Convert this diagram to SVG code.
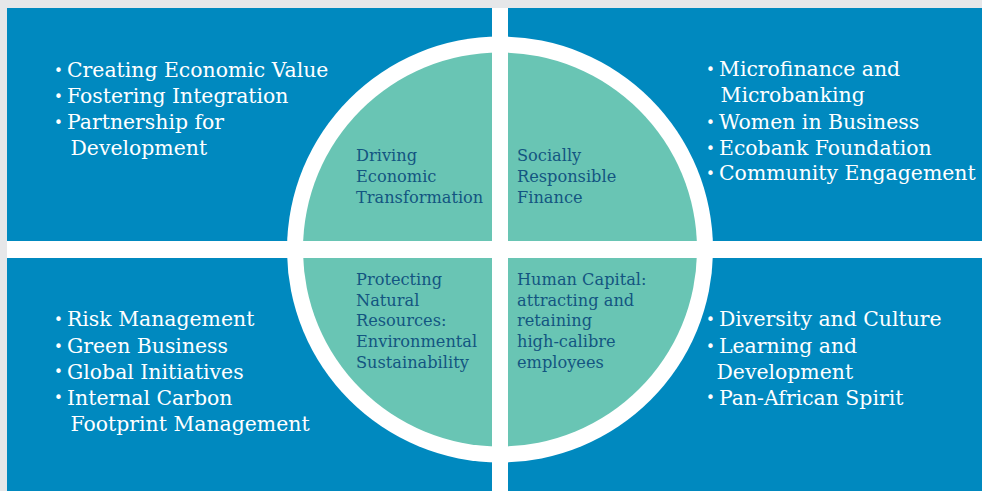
<svg xmlns="http://www.w3.org/2000/svg" width="982" height="491" viewBox="0 0 982 491">
<style>
.item{font-family:"DejaVu Serif","Liberation Serif",serif;font-size:20.4px;fill:#ffffff}
.bul{font-family:"DejaVu Sans","Liberation Sans",sans-serif;font-size:15px;fill:#ffffff}
.lbl{font-family:"DejaVu Serif","Liberation Serif",serif;font-size:16.2px;fill:#135581}
</style>
<rect x="0" y="0" width="982" height="491" fill="#e6e7e9"/>
<rect x="7" y="8" width="975" height="483" fill="#0089bf"/>
<g id="hub">
<circle cx="500" cy="249.5" r="213" fill="#ffffff"/>
<circle cx="500" cy="249.5" r="197" fill="#69c5b4"/>
</g>
<g id="dividers">
<rect x="492" y="8" width="16" height="483" fill="#ffffff"/>
<rect x="7" y="241" width="975" height="17" fill="#ffffff"/>
</g>
<g id="connectors"></g>
<g id="q-top-left">
<text class="lbl"><tspan x="356" y="161">Driving</tspan><tspan x="356" y="182">Economic</tspan><tspan x="356" y="203">Transformation</tspan></text>
<text class="bul" x="54" y="76">•</text><text class="item" x="67" y="77">Creating Economic Value</text>
<text class="bul" x="54" y="102">•</text><text class="item" x="67" y="103">Fostering Integration</text>
<text class="bul" x="54" y="128">•</text><text class="item" x="67" y="129">Partnership for</text>
<text class="item" x="70.5" y="155">Development</text>
</g>
<g id="q-top-right">
<text class="lbl"><tspan x="517" y="161">Socially</tspan><tspan x="517" y="182">Responsible</tspan><tspan x="517" y="203">Finance</tspan></text>
<text class="bul" x="706" y="75">•</text><text class="item" x="719" y="76">Microfinance and</text>
<text class="item" x="720.5" y="102">Microbanking</text>
<text class="bul" x="706" y="128">•</text><text class="item" x="719" y="129">Women in Business</text>
<text class="bul" x="706" y="154">•</text><text class="item" x="719" y="155">Ecobank Foundation</text>
<text class="bul" x="706" y="179">•</text><text class="item" x="719" y="180">Community Engagement</text>
</g>
<g id="q-bottom-left">
<text class="lbl"><tspan x="356" y="285">Protecting</tspan><tspan x="356" y="305.7">Natural</tspan><tspan x="356" y="326.3">Resources:</tspan><tspan x="356" y="347">Environmental</tspan><tspan x="356" y="367.5">Sustainability</tspan></text>
<text class="bul" x="54" y="325">•</text><text class="item" x="67" y="326">Risk Management</text>
<text class="bul" x="54" y="352">•</text><text class="item" x="67" y="353">Green Business</text>
<text class="bul" x="54" y="377">•</text><text class="item" x="67" y="378.5">Global Initiatives</text>
<text class="bul" x="54" y="403">•</text><text class="item" x="67" y="404.5">Internal Carbon</text>
<text class="item" x="70.5" y="431">Footprint Management</text>
</g>
<g id="q-bottom-right">
<text class="lbl"><tspan x="517" y="285">Human Capital:</tspan><tspan x="517" y="305.7">attracting and</tspan><tspan x="517" y="326.3">retaining</tspan><tspan x="517" y="347">high-calibre</tspan><tspan x="517" y="367.5">employees</tspan></text>
<text class="bul" x="706" y="325">•</text><text class="item" x="719" y="326">Diversity and Culture</text>
<text class="bul" x="706" y="352">•</text><text class="item" x="719" y="353">Learning and</text>
<text class="item" x="716.5" y="378.5">Development</text>
<text class="bul" x="706" y="403">•</text><text class="item" x="719" y="404.5">Pan-African Spirit</text>
</g>
</svg>
